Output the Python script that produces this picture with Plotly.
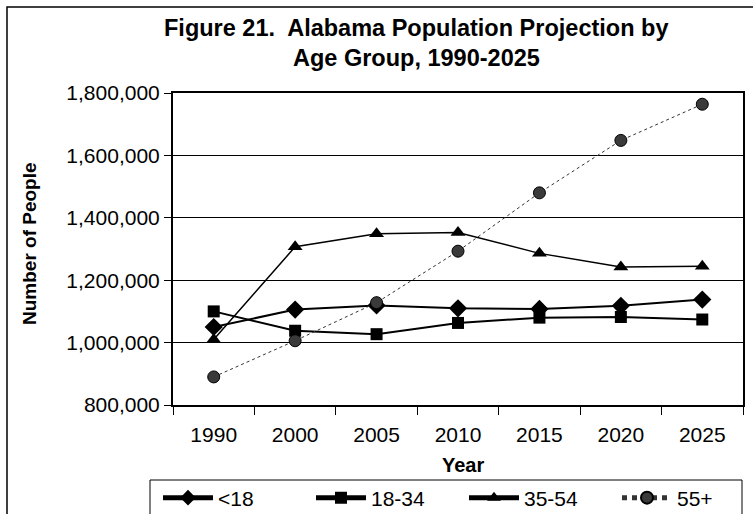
import plotly.graph_objects as go

years = ["1990", "2000", "2005", "2010", "2015", "2020", "2025"]
under18 = [1050000, 1106000, 1119000, 1110000, 1108000, 1118000, 1138000]
age18_34 = [1100000, 1038000, 1027000, 1063000, 1080000, 1082000, 1074000]
age35_54 = [1010000, 1307000, 1349000, 1353000, 1286000, 1242000, 1245000]
age55plus = [890000, 1006000, 1128000, 1293000, 1480000, 1648000, 1764000]
yticks = [800000, 1000000, 1200000, 1400000, 1600000, 1800000]

W, H = 753, 514
L, R, T, B = 173, 753 - 743, 93, 514 - 405
pw, ph = W - L - R, H - T - B
FONT = "Liberation Sans, Arial, sans-serif"


def px(x):
    return (x - L) / pw


def py(y):
    return (H - B - y) / ph


fig = go.Figure()
fig.add_trace(go.Scatter(x=years, y=under18, name="<18", mode="lines+markers",
                         line=dict(color="black", width=2),
                         marker=dict(symbol="diamond", size=14, color="black")))
fig.add_trace(go.Scatter(x=years, y=age18_34, name="18-34", mode="lines+markers",
                         line=dict(color="black", width=2),
                         marker=dict(symbol="square", size=12, color="black")))
fig.add_trace(go.Scatter(x=years, y=age35_54, name="35-54", mode="lines+markers",
                         line=dict(color="black", width=1.5),
                         marker=dict(symbol="triangle-up", size=13, color="black")))
fig.add_trace(go.Scatter(x=years, y=age55plus, name="55+", mode="lines+markers",
                         line=dict(color="#333333", width=1, dash="dot"),
                         marker=dict(symbol="circle", size=12, color="#3a3a3a",
                                     line=dict(color="black", width=1))))

# outer chart frame
fig.add_shape(type="rect", xref="paper", yref="paper",
              x0=px(7), x1=px(780), y0=py(7), y1=py(540),
              line=dict(color="black", width=1.5), fillcolor="rgba(0,0,0,0)", layer="below")
# legend frame
fig.add_shape(type="rect", xref="paper", yref="paper",
              x0=px(150), x1=px(742), y0=py(480), y1=py(540),
              line=dict(color="black", width=1), fillcolor="white", layer="below")

annotations = [
    dict(text="<b>Figure 21.  Alabama Population Projection by</b>", x=px(416), y=py(28),
         font=dict(size=23.5)),
    dict(text="<b>Age Group, 1990-2025</b>", x=px(416), y=py(58), font=dict(size=23.5)),
    dict(text="<b>Number of People</b>", x=px(30), y=py(244), textangle=-90,
         font=dict(size=19)),
    dict(text="<b>Year</b>", x=px(463), y=py(465), font=dict(size=20)),
]
for a in annotations:
    a.update(xref="paper", yref="paper", showarrow=False, xanchor="center", yanchor="middle")

fig.update_layout(
    width=W, height=H,
    margin=dict(l=L, r=R, t=T, b=B, autoexpand=False),
    paper_bgcolor="white", plot_bgcolor="white",
    font=dict(family=FONT, color="black", size=20),
    annotations=annotations,
    showlegend=True,
    legend=dict(orientation="h", x=px(158), xanchor="left", y=py(498), yanchor="middle",
                borderwidth=0, bgcolor="rgba(0,0,0,0)",
                font=dict(size=21), entrywidth=88, entrywidthmode="pixels",
                itemwidth=50, itemsizing="constant"),
)
fig.update_xaxes(type="category", tickson="boundaries", ticks="outside", ticklen=8,
                 tickcolor="black", tickwidth=1, showline=True, linecolor="black", linewidth=2,
                 mirror=True, showgrid=False, range=[-0.5, 6.5],
                 tickfont=dict(size=21), ticklabelstandoff=10)
fig.update_yaxes(range=[800000, 1800000], tickvals=yticks, tickformat=",",
                 ticks="outside", ticklen=7, tickcolor="black",
                 showline=True, linecolor="black", linewidth=2, mirror=True,
                 showgrid=True, gridcolor="black", gridwidth=1, zeroline=False,
                 tickfont=dict(size=21))

fig.write_html("out.html", config={"displayModeBar": False},
               post_script="document.body.style.margin='0px';")
